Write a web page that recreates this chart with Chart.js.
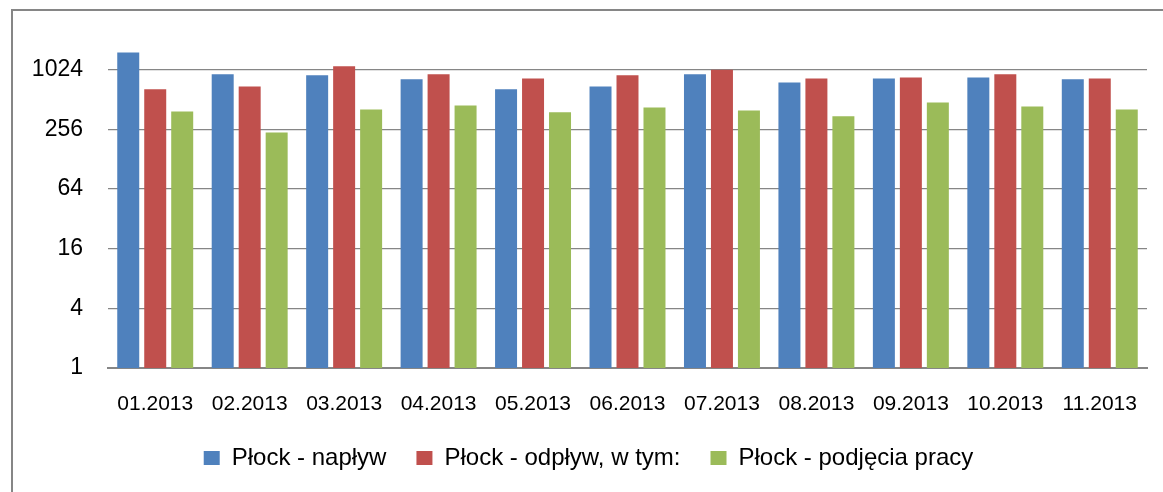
<!DOCTYPE html>
<html>
<head>
<meta charset="utf-8">
<script src="https://cdn.jsdelivr.net/npm/chart.js@4/dist/chart.umd.min.js"></script>
<style>
    html, body { margin: 0; padding: 0; background: #fff; }
    #wrap { position: relative; width: 1163px; height: 492px; overflow: hidden; }
    #frame { position: absolute; left: 11px; top: 9px; width: 1200px; height: 520px; border: 2px solid #868686; box-sizing: border-box; }
    canvas { position: absolute; left: 0; top: 0; }
</style>
</head>
<body>
<div id="wrap">
    <div id="frame"></div>
    <canvas id="chartPlock" width="1163" height="492"></canvas>
</div>
<script>
    // dane
    var months = ["01.2013", "02.2013", "03.2013", "04.2013", "05.2013", "06.2013",
                  "07.2013", "08.2013", "09.2013", "10.2013", "11.2013"];
    var naplyw = [1530, 918, 897, 818, 648, 694, 918, 762, 836, 856, 818];
    var odplyw = [648, 694, 1106, 918, 836, 897, 1020, 836, 856, 918, 836];
    var podjecia = [388, 238, 407, 446, 380, 426, 397, 346, 478, 436, 407];
    var yTicks = [1, 4, 16, 64, 256, 1024];

    Chart.defaults.font.family = "'Liberation Sans', Arial, sans-serif";
    Chart.defaults.color = "#000";

    var barData = {
        labels: months,
        datasets: [
            {
                label: "Płock - napływ",
                backgroundColor: "#4F81BD",
                data: naplyw
            },
            {
                label: "Płock - odpływ, w tym:",
                backgroundColor: "#C0504D",
                data: odplyw
            },
            {
                label: "Płock - podjęcia pracy",
                backgroundColor: "#9BBB59",
                data: podjecia
            }
        ]
    };

    var barOptions = {
        responsive: false,
        animation: false,
        categoryPercentage: 0.857,
        barPercentage: 0.815,
        layout: { padding: { left: 30, right: 16, top: 10, bottom: 12 } },
        plugins: {
            tooltip: { enabled: false },
            legend: {
                position: "bottom",
                labels: {
                    boxWidth: 16,
                    boxHeight: 14,
                    padding: 30,
                    font: { size: 24 }
                }
            }
        },
        scales: {
            x: {
                grid: { display: false, drawTicks: false },
                border: { color: "#868686", width: 2 },
                ticks: { font: { size: 21 }, padding: 24, maxRotation: 0, autoSkip: false },
                afterFit: function (scale) {
                    scale.height = 48;
                    scale.paddingLeft = 0;
                    scale.paddingRight = 0;
                }
            },
            y: {
                type: "logarithmic",
                min: 1,
                max: 4096,
                border: { display: false },
                grid: { color: "#868686", lineWidth: 1.3, drawTicks: false },
                ticks: {
                    font: { size: 23 },
                    padding: 25,
                    callback: function (v) { return String(v); }
                },
                afterBuildTicks: function (scale) {
                    scale.ticks = yTicks.map(function (v) { return { value: v }; });
                },
                afterFit: function (scale) {
                    scale.width = 78;
                    scale.paddingTop = 0;
                    scale.paddingBottom = 0;
                }
            }
        }
    };

    var ctx = document.getElementById("chartPlock").getContext("2d");
    new Chart(ctx, { type: "bar", data: barData, options: barOptions });
</script>
</body>
</html>
